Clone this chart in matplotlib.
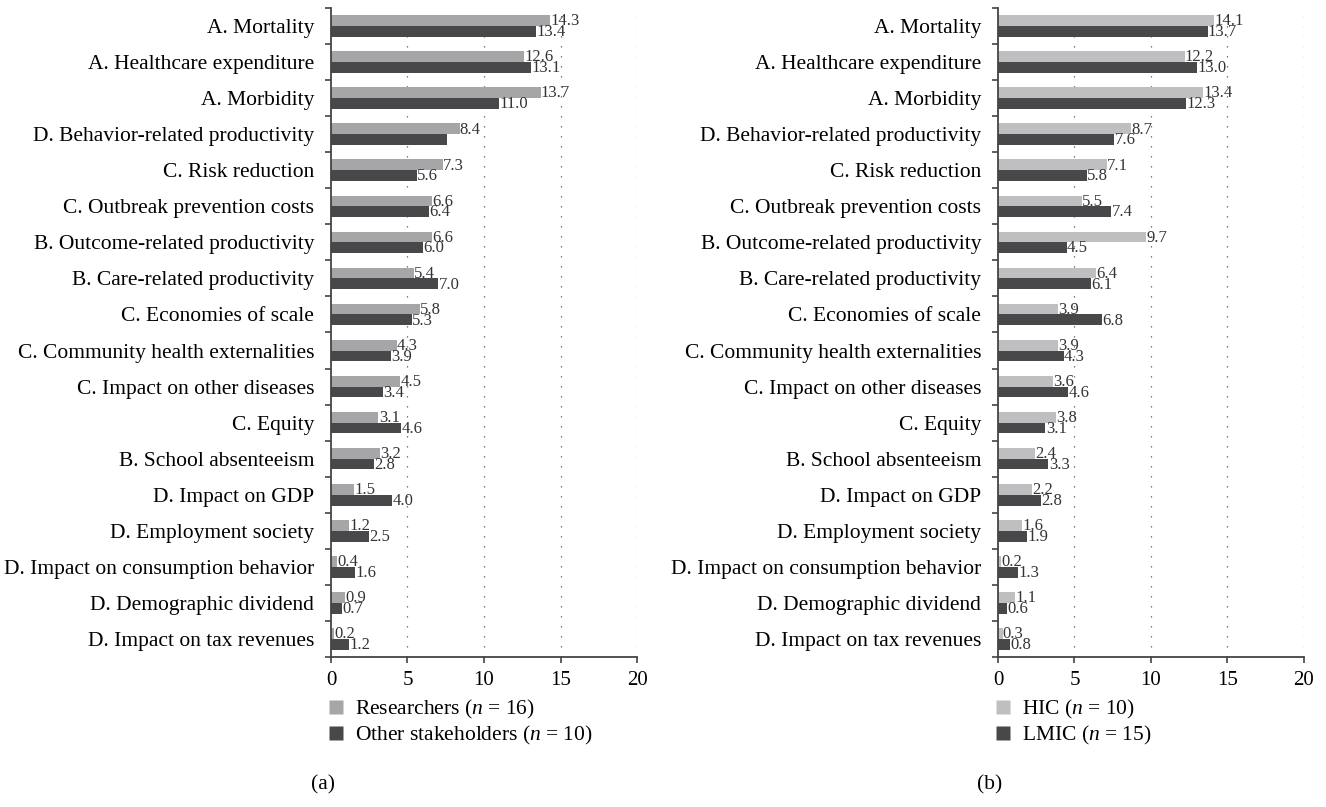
import numpy as np
import matplotlib.pyplot as plt
from matplotlib.lines import Line2D

plt.rcParams['font.family'] = ['Liberation Serif', 'DejaVu Serif']
plt.rcParams['mathtext.fontset'] = 'custom'
plt.rcParams['mathtext.rm'] = 'Liberation Serif'
plt.rcParams['mathtext.it'] = 'Liberation Serif:italic'

categories = [
    'A. Mortality', 'A. Healthcare expenditure', 'A. Morbidity',
    'D. Behavior-related productivity', 'C. Risk reduction',
    'C. Outbreak prevention costs', 'B. Outcome-related productivity',
    'B. Care-related productivity', 'C. Economies of scale',
    'C. Community health externalities', 'C. Impact on other diseases',
    'C. Equity', 'B. School absenteeism', 'D. Impact on GDP',
    'D. Employment society', 'D. Impact on consumption behavior',
    'D. Demographic dividend', 'D. Impact on tax revenues',
]

researchers = [14.3, 12.6, 13.7, 8.4, 7.3, 6.6, 6.6, 5.4, 5.8, 4.3, 4.5, 3.1, 3.2, 1.5, 1.2, 0.4, 0.9, 0.2]
other_stakeholders = [13.4, 13.1, 11.0, 7.6, 5.6, 6.4, 6.0, 7.0, 5.3, 3.9, 3.4, 4.6, 2.8, 4.0, 2.5, 1.6, 0.7, 1.2]
# panel (a) dark bar of behavior-related productivity has no printed label
other_label_hidden = [3]

hic = [14.1, 12.2, 13.4, 8.7, 7.1, 5.5, 9.7, 6.4, 3.9, 3.9, 3.6, 3.8, 2.4, 2.2, 1.6, 0.2, 1.1, 0.3]
lmic = [13.7, 13.0, 12.3, 7.6, 5.8, 7.4, 4.5, 6.1, 6.8, 4.3, 4.6, 3.1, 3.3, 2.8, 1.9, 1.3, 0.6, 0.8]

xticks = [0, 5, 10, 15, 20]

dark = '#48484a'
panels = [
    dict(left=0.2496, a=researchers, b=other_stakeholders, ca='#a6a6a9',
         la='Researchers ($n$ = 16)', lb='Other stakeholders ($n$ = 10)',
         tag='(a)', tagx=0.2436, hide=other_label_hidden),
    dict(left=0.7526, a=hic, b=lmic, ca='#bfbfc1',
         la='HIC ($n$ = 10)', lb='LMIC ($n$ = 15)',
         tag='(b)', tagx=0.7466, hide=[]),
]

fig = plt.figure(figsize=(13.26, 8.07), dpi=100)
y = np.arange(len(categories))
h = 0.3

for p in panels:
    ax = fig.add_axes([p['left'], 0.186, 0.2308, 0.804])
    ax.barh(y - h / 2, p['a'], height=h, color=p['ca'], zorder=2)
    ax.barh(y + h / 2, p['b'], height=h, color=dark, zorder=2)
    for i in range(len(categories)):
        ax.text(p['a'][i] + 0.02, y[i] - h / 2 + 0.02, f"{p['a'][i]:.1f}",
                va='center', ha='left', fontsize=12, color='#333333', zorder=3)
        if i not in p['hide']:
            ax.text(p['b'][i] + 0.02, y[i] + h / 2 + 0.02, f"{p['b'][i]:.1f}",
                    va='center', ha='left', fontsize=12, color='#333333', zorder=3)
    ax.set_xlim(0, 20)
    ax.set_ylim(len(categories) - 0.5, -0.5)
    ax.set_xticks(xticks)
    ax.set_xticklabels([str(t) for t in xticks], fontsize=15)
    ax.set_yticks(y)
    ax.set_yticklabels(categories, fontsize=15.5)
    ax.tick_params(axis='y', length=0, pad=12)
    ax.set_yticks(np.arange(-0.5, len(categories)), minor=True)
    ax.tick_params(axis='y', which='minor', length=4, width=1.2, color='#444444')
    ax.tick_params(axis='x', length=4, width=1.2, color='#444444', pad=6)
    for s in ['top', 'right']:
        ax.spines[s].set_visible(False)
    for s in ['left', 'bottom']:
        ax.spines[s].set_color('#444444')
        ax.spines[s].set_linewidth(1.3)
    for t in xticks[1:]:
        ax.axvline(t, color='#555555', lw=0.9, linestyle=(0, (1, 7)), zorder=1)

    handles = [
        Line2D([], [], marker='s', color='none', markerfacecolor=p['ca'],
               markeredgecolor='none', markersize=10, label=p['la']),
        Line2D([], [], marker='s', color='none', markerfacecolor=dark,
               markeredgecolor='none', markersize=10, label=p['lb']),
    ]
    fig.legend(handles=handles, loc='upper left',
               bbox_to_anchor=(p['left'] - 0.003, 0.135), frameon=False,
               fontsize=15.5, handlelength=0.8, handletextpad=0.5,
               labelspacing=0.15, borderaxespad=0, borderpad=0)
    fig.text(p['tagx'], 0.027, p['tag'], fontsize=15.5, ha='center', va='center')

fig.savefig('out.png', dpi=100)
